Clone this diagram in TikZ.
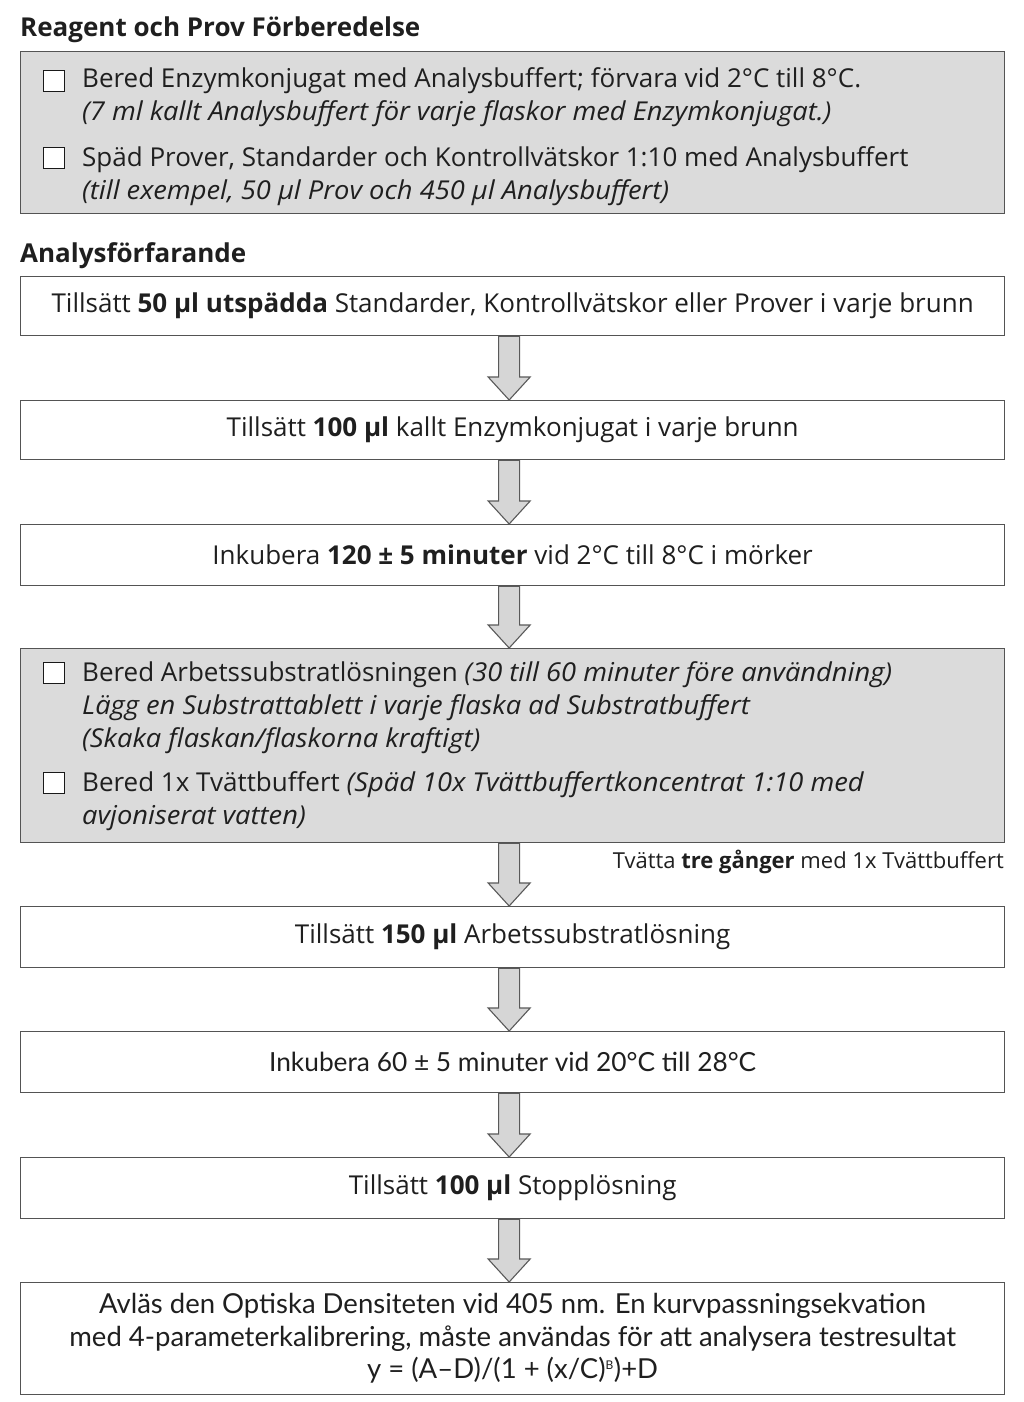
\documentclass[tikz,border=0pt]{standalone}
\usepackage{fontspec}
\setmainfont{Open Sans}[ItalicFeatures={FakeStretch=1.05}]
\newfontfamily\condfont{Lato}
\usetikzlibrary{calc}
\definecolor{boxgray}{gray}{0.86}
\definecolor{linegray}{gray}{0.33}
\definecolor{arrowfill}{gray}{0.84}
\definecolor{arrowline}{gray}{0.35}
\definecolor{txt}{gray}{0.12}
\tikzset{
  base/.style={font=\fontsize{26}{33}\selectfont, text=txt, inner sep=0pt},
  stepbox/.style={draw=linegray, line width=1.3pt, fill=white, minimum width=984pt,
     minimum height=#1, anchor=north west, inner sep=0pt, base, align=center},
  graybox/.style={draw=linegray, line width=1.3pt, fill=boxgray, minimum width=984pt,
     minimum height=#1, anchor=north west, inner sep=0pt},
  line/.style={base, anchor=base west},
  heading/.style={base, anchor=base west, font=\fontsize{26}{30}\selectfont\bfseries},
  chk/.style={draw=black!90, line width=1.8pt, fill=white, minimum size=21pt, inner sep=0pt},
  barrow/.style={draw=arrowline, line width=1.1pt, fill=arrowfill, line join=miter},
}
\newcommand\blockarrow[2]{%
  \draw[barrow] let \p1=($(#1.south)+(-3.5pt,0)$), \p2=(#2.north) in
   (\x1-10.5pt,\y1) -- (\x1+10.5pt,\y1) -- (\x1+10.5pt,\y2+23pt) -- (\x1+21pt,\y2+23pt)
   -- (\x1,\y2) -- (\x1-21pt,\y2+23pt) -- (\x1-10.5pt,\y2+23pt) -- cycle;}
\begin{document}
\begin{tikzpicture}[x=1pt,y=-1pt]
\useasboundingbox (0,0) rectangle (1024,1402);
% Section 1
\node[heading] (h1) at (20,37) {Reagent och Prov Förberedelse};
\node[graybox=162pt] (g1) at (20,51) {};
\node[chk] (c1) at (54,81) {};
\node[line] (l1a) at (82,88) {Bered Enzymkonjugat med Analysbuffert; förvara vid 2°C till 8°C.};
\node[line] (l1b) at (82,121) {\itshape (7 ml kallt Analysbuffert för varje flaskor med Enzymkonjugat.)};
\node[chk] (c2) at (54,158) {};
\node[line] (l1c) at (82,166) {Späd Prover, Standarder och Kontrollvätskor 1:10 med Analysbuffert};
\node[line] (l1d) at (82,199) {\itshape (till exempel, 50 µl Prov och 450 µl Analysbuffert)};
% Section 2
\node[heading] (h2) at (20,262) {Analysförfarande};
\node[stepbox=59pt] (s1) at (20,276) {Tillsätt \textbf{50 µl utspädda} Standarder, Kontrollvätskor eller Prover i varje brunn};
\node[stepbox=59pt] (s2) at (20,400) {Tillsätt \textbf{100 µl} kallt Enzymkonjugat i varje brunn};
\node[stepbox=61pt] (s3) at (20,524) {Inkubera \textbf{120 ± 5 minuter} vid 2°C till 8°C i mörker};
\node[graybox=194pt] (g2) at (20,648) {};
\node[chk] (c3) at (54,673) {};
\node[line] (l2a) at (82,681) {Bered Arbetssubstratlösningen \textit{(30 till 60 minuter före användning)}};
\node[line] (l2b) at (82,714) {\itshape Lägg en Substrattablett i varje flaska ad Substratbuffert};
\node[line] (l2c) at (82,747) {\itshape (Skaka flaskan/flaskorna kraftigt)};
\node[chk] (c4) at (54,783) {};
\node[line] (l2d) at (82,791) {Bered 1x Tvättbuffert \textit{(Späd 10x Tvättbuffertkoncentrat 1:10 med}};
\node[line] (l2e) at (82,824) {\itshape avjoniserat vatten)};
\node[base, anchor=base east, font=\fontsize{22}{24}\selectfont] (wash) at (1004,868) {Tvätta \textbf{tre gånger} med 1x Tvättbuffert};
\node[stepbox=61pt] (s4) at (20,906) {Tillsätt \textbf{150 µl} Arbetssubstratlösning};
\node[stepbox=61pt, font=\fontsize{26.3}{33}\condfont] (s5) at (20,1031) {Inkubera 60 ± 5 minuter vid 20°C till 28°C};
\node[stepbox=61pt] (s6) at (20,1157) {Tillsätt \textbf{100 µl} Stopplösning};
\node[stepbox=112pt, font=\fontsize{27.5}{32.5}\condfont] (s7) at (20,1282) {Avläs den Optiska Densiteten vid 405 nm. En kurvpassningsekvation\\
med 4-parameterkalibrering, måste användas för att analysera testresultat\\
y = (A–D)/(1 + (x/C)\textsuperscript{\fontsize{12}{12}\selectfont B})+D};
\blockarrow{s1}{s2}
\blockarrow{s2}{s3}
\blockarrow{s3}{g2}
\blockarrow{g2}{s4}
\blockarrow{s4}{s5}
\blockarrow{s5}{s6}
\blockarrow{s6}{s7}
\end{tikzpicture}
\end{document}
